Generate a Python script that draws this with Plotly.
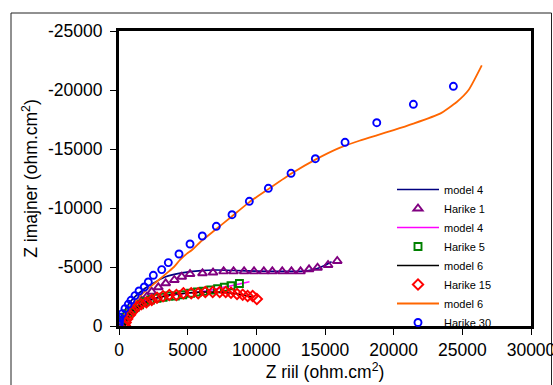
import plotly.graph_objects as go

# ---------------- data ----------------
# Harike 1 (purple triangles) and model 4 fit (navy)
h1_x = [30, 100, 250, 480, 700, 925, 1289, 1653, 2017, 2382, 2862, 3401, 4028, 4567, 5171,
        6081, 6846, 7618, 8340, 9111, 9832, 10546, 11165, 11886, 12556, 13219, 13838, 14457,
        15222, 15892]
h1_y = [-100, -300, -600, -900, -1130, -1356, -1780, -2144, -2483, -2907, -3280, -3619, -3898,
        -4178, -4407, -4466, -4530, -4630, -4630, -4630, -4630, -4630, -4630, -4630, -4630,
        -4630, -4805, -4941, -5169, -5508]
m4a_x = [0, 200, 500, 1000, 1900, 2600, 3350, 4567, 6023, 7000, 8500, 10000, 11500, 13000,
         13800, 14500, 15000, 15480]
m4a_y = [0, -800, -1500, -2300, -3200, -3700, -4150, -4500, -4690, -4740, -4700, -4650, -4630,
         -4630, -4700, -4900, -5150, -5450]

# Harike 5 (green squares) and model 4 fit (magenta)
h5_x = [100, 180, 300, 450, 650, 900, 1200, 1500, 1900, 2300, 2768, 3205, 3613, 4100, 4640,
        5208, 5717, 6154, 6672, 7181, 7669, 8157, 8769]
h5_y = [-50, -200, -450, -750, -1050, -1350, -1600, -1800, -2050, -2200, -2347, -2432, -2542,
        -2542, -2653, -2771, -2881, -2941, -3051, -3161, -3280, -3415, -3602]
m4b_x = [0, 300, 800, 1500, 2500, 3500, 4500, 5500, 6500, 7500, 8500, 9500]
m4b_y = [0, -500, -1200, -1800, -2300, -2550, -2700, -2850, -3000, -3250, -3500, -3750]

# Harike 15 (red diamonds) and model 6 fit (black)
h15_x = [420, 480, 600, 800, 1050, 1304, 1610, 1996, 2382, 2768, 3205, 3664, 4181, 4690, 5259,
         5768, 6286, 6824, 7334, 7771, 8157, 8594, 9009, 9366, 9730, 10036]
h15_y = [-50, -300, -600, -950, -1300, -1636, -1839, -2008, -2203, -2398, -2517, -2627, -2627,
         -2771, -2771, -2771, -2881, -2881, -2881, -2881, -2822, -2712, -2653, -2542, -2542,
         -2288]
m6a_x = [400, 600, 1000, 2000, 3000, 4000, 5000, 6000, 7000, 8000, 9000, 9800]
m6a_y = [0, -600, -1300, -2050, -2450, -2700, -2800, -2870, -2870, -2800, -2650, -2450]

# Harike 30 (blue circles) and model 6 fit (orange)
h30_x = [5, 15, 35, 73, 240, 437, 677, 874, 1165, 1457, 1843, 2134, 2498, 3110, 3591, 4370,
         5171, 6067, 7087, 8230, 9490, 10874, 12527, 14297, 16460, 18769, 21435, 24348]
h30_y = [-80, -250, -450, -737, -1051, -1475, -1839, -2178, -2576, -2966, -3305, -3729, -4297,
         -4780, -5373, -6102, -6949, -7627, -8449, -9432, -10568, -11669, -12941, -14178,
         -15568, -17229, -18788, -20314]
m6b_x = [0, 100, 300, 600, 1000, 1500, 2000, 2865, 3500, 4000, 4440, 4946, 5290, 6000, 6992,
         8230, 9490, 10874, 12527, 14297, 16096, 17500, 18769, 20000, 21435, 23379, 24595,
         25440, 26416]
m6b_y = [0, -350, -800, -1300, -1900, -2500, -3050, -3873, -4500, -5000, -5600, -6136, -6415,
         -7200, -8136, -9300, -10500, -11600, -12900, -14100, -15119, -15700, -16161, -16600,
         -17153, -18000, -18983, -19975, -22093]

x_tick_vals = [0, 5000, 10000, 15000, 20000, 25000, 30000]
x_tick_text = ["0", "5000", "10000", "15000", "20000", "25000", "30000"]
y_tick_vals = [0, -5000, -10000, -15000, -20000, -25000]
y_tick_text = ["0", "-5000", "-10000", "-15000", "-20000", "-25000"]

FONT = "Liberation Sans, Arial, sans-serif"

fig = go.Figure()


def line(x, y, name, color, width=1.6):
    fig.add_trace(go.Scatter(x=x, y=y, mode="lines", name=name,
                             line=dict(color=color, width=width, shape="spline",
                                       smoothing=0.5)))


def pts(x, y, name, color, symbol, size):
    fig.add_trace(go.Scatter(x=x, y=y, mode="markers", name=name,
                             marker=dict(symbol=symbol, size=size, color=color,
                                         line=dict(color=color, width=1.9))))


line(m4a_x, m4a_y, "model 4", "#000080")
pts(h1_x, h1_y, "Harike 1", "#800080", "triangle-up-open", 8)
line(m4b_x, m4b_y, "model 4", "#FF00FF")
pts(h5_x, h5_y, "Harike 5", "#008000", "square-open", 7)
line(m6a_x, m6a_y, "model 6", "#000000")
pts(h15_x, h15_y, "Harike 15", "#FF0000", "diamond-open", 8)
line(m6b_x, m6b_y, "model 6", "#FF6600", 1.8)
pts(h30_x, h30_y, "Harike 30", "#0000FF", "circle-open", 7)

# outer frame (pixel geometry: plot area x 119..531, y 31..326)
def px_to_paper_x(px):
    return (px - 119) / 412.0


def px_to_paper_y(py):
    return (326 - py) / 295.0


fig.add_shape(type="rect", xref="paper", yref="paper",
              x0=px_to_paper_x(11), x1=px_to_paper_x(551.5),
              y0=px_to_paper_y(400), y1=px_to_paper_y(13),
              line=dict(color="#222222", width=1), layer="below")

fig.update_layout(
    width=553, height=385,
    margin=dict(l=119, r=22, t=31, b=59, autoexpand=False),
    paper_bgcolor="white", plot_bgcolor="white",
    font=dict(family=FONT, size=17.5, color="black"),
    showlegend=True,
    legend=dict(x=px_to_paper_x(392), y=px_to_paper_y(175), xanchor="left", yanchor="top",
                bgcolor="rgba(0,0,0,0)", borderwidth=0, itemwidth=42,
                font=dict(family=FONT, size=11, color="black"), tracegroupgap=0),
    xaxis=dict(range=[0, 30000], tickvals=x_tick_vals, ticktext=x_tick_text,
               showgrid=False, zeroline=False, showline=True, linecolor="black", linewidth=3,
               mirror=True, ticks="outside", ticklen=6, tickwidth=1, tickcolor="black",
               ticklabeloverflow="allow", automargin=False,
               title=dict(text="Z riil (ohm.cm<sup>2</sup>)", standoff=2,
                          font=dict(family=FONT, size=17.5))),
    yaxis=dict(range=[0, -25000], tickvals=y_tick_vals, ticktext=y_tick_text,
               showgrid=False, zeroline=False, showline=True, linecolor="black", linewidth=3,
               mirror=True, ticks="outside", ticklen=6, tickwidth=1, tickcolor="black",
               ticklabelstandoff=4, automargin=False,
               title=dict(text="Z imajner (ohm.cm<sup>2</sup>)", standoff=6,
                          font=dict(family=FONT, size=17.5))),
)

fig.write_html("out.html")
